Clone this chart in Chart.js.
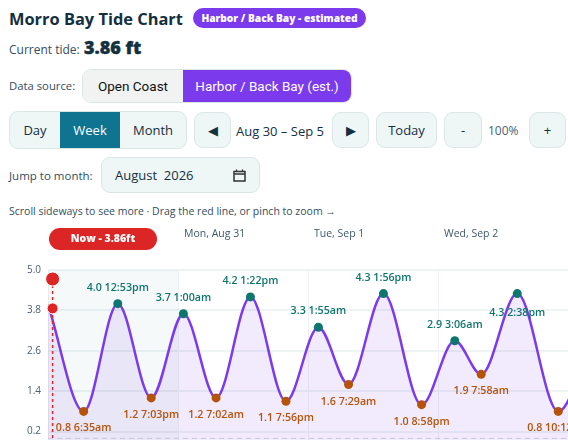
<!DOCTYPE html>
<html>
<head>
<meta charset="utf-8">
<title>Morro Bay Tide Chart</title>
<script src="https://cdn.jsdelivr.net/npm/chart.js@4"></script>
<style>
  html, body { margin: 0; height: 440px; overflow: hidden; background: #fff; }
  body { position: relative; width: 568px; font-family: "Open Sans", sans-serif; color: #334e5e; font-size: 12px; }
  .abs { position: absolute; white-space: nowrap; }
  h1 { margin: 0; font-size: 16.4px; line-height: 22px; font-weight: 700; color: #14303f; left: 9px; top: 8px; }
  .badge { left: 193px; top: 8px; width: 173px; height: 20px; line-height: 20px; border-radius: 10px; background: #7c3aed; color: #fff; font-size: 10.2px; font-weight: 800; text-align: center; }
  .now-val { left: 84px; top: 35px; font-size: 18px; font-weight: 800; color: #14303f; -webkit-text-stroke: 0.4px #14303f; }
  .btn { box-sizing: border-box; background: #eff6f6; border: 1px solid #dbe7e7; border-radius: 9px; text-align: center; font-size: 13px; color: #14303f; display: flex; align-items: center; justify-content: center; }
  .seg { display: flex; box-sizing: border-box; border: 1px solid #dbe7e7; border-radius: 9px; overflow: hidden; font-size: 13px; }
  .seg div { display: flex; align-items: center; justify-content: center; }
  #chartWrap { position: absolute; left: 0; top: 225px; }
</style>
</head>
<body>
  <h1 class="abs">Morro Bay Tide Chart</h1>
  <div class="abs badge">Harbor / Back Bay - estimated</div>
  <div class="abs" style="left:9px;top:41px">Current tide:</div>
  <div class="abs now-val">3.86 ft</div>

  <div class="abs" style="left:9px;top:78px;font-size:11.3px">Data source:</div>
  <div class="abs seg" style="left:82px;top:69px;width:270px;height:34px;font-family:Roboto,sans-serif;font-size:13.5px">
    <div style="width:100px;background:#f1f3f3;color:#111">Open Coast</div>
    <div style="flex:1;background:#7c3aed;color:#fff">Harbor / Back Bay (est.)</div>
  </div>

  <div class="abs seg" style="left:9px;top:111px;width:178px;height:38px;background:#eff6f6;color:#14303f">
    <div style="width:50px">Day</div>
    <div style="width:60px;background:#0e7490;color:#fff">Week</div>
    <div style="flex:1">Month</div>
  </div>
  <div class="abs btn" style="left:194px;top:112px;width:37px;height:36px">◀</div>
  <div class="abs" style="left:236px;top:122px;color:#14303f;font-size:13px">Aug 30 – Sep 5</div>
  <div class="abs btn" style="left:332px;top:112px;width:37px;height:36px">▶</div>
  <div class="abs btn" style="left:376px;top:112px;width:61px;height:36px">Today</div>
  <div class="abs btn" style="left:444px;top:112px;width:38px;height:36px">-</div>
  <div class="abs" style="left:488px;top:122px;font-size:12px;color:#4a6270">100%</div>
  <div class="abs btn" style="left:529px;top:112px;width:37px;height:36px">+</div>

  <div class="abs" style="left:9px;top:168px;font-size:11.5px">Jump to month:</div>
  <div class="abs btn" style="left:101px;top:157px;width:159px;height:36px;justify-content:flex-start;padding-left:13px">August&nbsp; 2026
    <svg style="position:absolute;left:131px;top:11px" width="13" height="13" viewBox="0 0 13 13"><path d="M1 2.5h11v9.5H1z M1 5h11" fill="none" stroke="#333" stroke-width="1.5"/><path d="M3.5 0.5v2 M9.5 0.5v2" stroke="#333" stroke-width="1.3"/></svg>
  </div>

  <div class="abs" style="left:9px;top:204px;font-size:10.5px">Scroll sideways to see more · Drag the red line, or pinch to zoom →</div>

  <div id="chartWrap"><canvas id="tideChart" width="568" height="260"></canvas></div>

<script>
// hours counted from Sun Aug 30 00:00
const tideHours = [0, 6.58, 12.88, 19.05, 25, 31.03, 37.37, 43.93, 49.92, 55.48, 61.93, 68.97, 75.1, 79.97, 86.63, 94.2, 100.5];
const tideHeights = [3.98, 0.8, 4.0, 1.2, 3.7, 1.2, 4.2, 1.1, 3.3, 1.6, 4.3, 1.0, 2.9, 1.9, 4.3, 0.8, 3.0];
const tideKinds = ["", "low", "high", "low", "high", "low", "high", "low", "high", "low", "high", "low", "high", "low", "high", "low", ""];
const tideTimes = ["", "6:35am", "12:53pm", "7:03pm", "1:00am", "7:02am", "1:22pm", "7:56pm", "1:55am", "7:29am", "1:56pm", "8:58pm", "3:06am", "7:58am", "2:38pm", "10:12pm", ""];
const yTickValues = [5.0, 3.8, 2.6, 1.4, 0.2, -1.0];
const dayStarts = [0, 24, 48, 72, 96];
const dayLabels = ["", "Mon, Aug 31", "Tue, Sep 1", "Wed, Sep 2", ""];
const nowHour = 0.85;
const nowHeight = 3.86;
const nowLabel = "Now - 3.86ft";

const HIGH_COLOR = "#0f766e";
const LOW_COLOR = "#b45309";
const LABEL_FONT = '600 10.7px "Open Sans", sans-serif';

// background band, zero line and top day labels
const backdropPlugin = {
  id: "backdrop",
  beforeDatasetsDraw(chart) {
    const { ctx, chartArea, scales: { x, y } } = chart;
    ctx.save();
    ctx.fillStyle = "rgba(15, 118, 110, 0.045)";
    ctx.fillRect(x.getPixelForValue(0), chartArea.top, x.getPixelForValue(24) - x.getPixelForValue(0), chartArea.height);
    ctx.strokeStyle = "#cfd6dc";
    ctx.lineWidth = 1;
    ctx.setLineDash([5, 4]);
    ctx.beginPath();
    ctx.moveTo(chartArea.left, y.getPixelForValue(0));
    ctx.lineTo(chartArea.right, y.getPixelForValue(0));
    ctx.stroke();
    ctx.restore();
  },
  afterDraw(chart) {
    const { ctx, scales: { x } } = chart;
    ctx.save();
    ctx.font = '10.5px "Open Sans", sans-serif';
    ctx.fillStyle = "#3f5a6b";
    ctx.textBaseline = "middle";
    dayLabels.forEach((label, i) => {
      if (label) ctx.fillText(label, x.getPixelForValue(dayStarts[i]) + 6, 9);
    });
    ctx.restore();
  },
};

// high / low text next to each marker
const tideLabelPlugin = {
  id: "tideLabels",
  afterDatasetsDraw(chart) {
    const { ctx } = chart;
    const points = chart.getDatasetMeta(0).data;
    ctx.save();
    ctx.font = LABEL_FONT;
    ctx.textAlign = "center";
    ctx.textBaseline = "middle";
    tideKinds.forEach((kind, i) => {
      if (!kind) return;
      let offset = kind === "high" ? -16 : 17;
      if (tideTimes[i] === "2:38pm") offset = 19; // sits under the peak in the original
      ctx.fillStyle = kind === "high" ? HIGH_COLOR : LOW_COLOR;
      ctx.fillText(tideHeights[i].toFixed(1) + " " + tideTimes[i], points[i].x, points[i].y + offset);
    });
    ctx.restore();
  },
};

// draggable red marker and its pill
const nowPlugin = {
  id: "nowMarker",
  afterDraw(chart) {
    const { ctx, chartArea, scales: { x, y } } = chart;
    const px = x.getPixelForValue(nowHour);
    const py = y.getPixelForValue(nowHeight);
    ctx.save();
    ctx.strokeStyle = "#dc2626";
    ctx.lineWidth = 1.5;
    ctx.setLineDash([3, 3]);
    ctx.beginPath();
    ctx.moveTo(px, 54);
    ctx.lineTo(px, chartArea.bottom);
    ctx.stroke();
    ctx.setLineDash([]);
    ctx.fillStyle = "#dc2626";
    ctx.strokeStyle = "#fff";
    ctx.lineWidth = 1;
    [[54, 7], [py, 5.5]].forEach(([cy, r]) => {
      ctx.beginPath();
      ctx.arc(px, cy, r, 0, Math.PI * 2);
      ctx.fill();
      ctx.stroke();
    });
    ctx.beginPath();
    ctx.roundRect(49, 3, 108, 22, 11);
    ctx.fill();
    ctx.fillStyle = "#fff";
    ctx.font = '800 10.5px "Open Sans", sans-serif';
    ctx.textAlign = "center";
    ctx.textBaseline = "middle";
    ctx.fillText(nowLabel, 103, 14);
    ctx.restore();
  },
};

new Chart(document.getElementById("tideChart"), {
  type: "line",
  data: {
    datasets: [
      {
        data: tideHours.map((hour, i) => ({ x: hour, y: tideHeights[i] })),
        borderColor: "#7c3aed",
        borderWidth: 2.5,
        backgroundColor: "rgba(124, 58, 237, 0.1)",
        fill: "start",
        cubicInterpolationMode: "monotone",
        pointRadius: (c) => (tideKinds[c.dataIndex] ? 4.5 : 0),
        pointBorderWidth: 0,
        pointBackgroundColor: (c) => (tideKinds[c.dataIndex] === "high" ? HIGH_COLOR : LOW_COLOR),
      },
    ],
  },
  options: {
    responsive: false,
    animation: false,
    layout: { padding: { top: 45, left: 0, right: 0, bottom: 0 } },
    plugins: { legend: { display: false }, tooltip: { enabled: false } },
    scales: {
      x: {
        type: "linear",
        min: 0,
        max: 96,
        afterBuildTicks: (axis) => { axis.ticks = dayStarts.map((value) => ({ value })); },
        ticks: { display: false },
        border: { display: false },
        grid: { color: "#edf1f5", drawTicks: false },
      },
      y: {
        min: -1,
        max: 5,
        afterBuildTicks: (axis) => { axis.ticks = yTickValues.map((value) => ({ value })); },
        afterFit: (axis) => { axis.width = 48; },
        ticks: {
          padding: 7,
          color: "#4a6072",
          font: { size: 10, family: '"Open Sans", sans-serif' },
          callback: (value) => value.toFixed(1),
        },
        border: { display: false },
        grid: { color: "#eef4f4", lineWidth: 2, drawTicks: false },
      },
    },
  },
  plugins: [backdropPlugin, tideLabelPlugin, nowPlugin],
});
</script>
</body>
</html>
